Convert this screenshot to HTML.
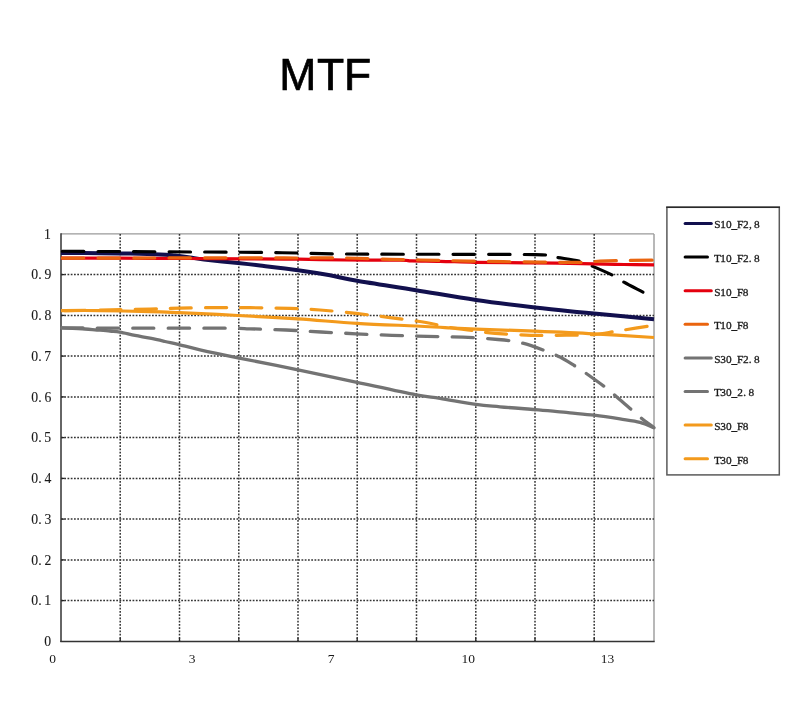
<!DOCTYPE html><html><head><meta charset="utf-8"><title>MTF</title><style>html,body{margin:0;padding:0;background:#fff;}body{width:800px;height:710px;overflow:hidden;position:relative;}svg{position:absolute;left:0;top:0;}</style></head><body>
<svg width="800" height="710" viewBox="0 0 800 710">
<rect width="800" height="710" fill="#fff"/>
<text x="279.32 316.97 343.92" y="89.6" font-family="Liberation Sans, sans-serif" font-size="44.5" fill="#000" stroke="#000" stroke-width="0.7">MTF</text>
<line x1="61" y1="233.9" x2="654" y2="233.9" stroke="#9a9a9a" stroke-width="1.4"/>
<line x1="654" y1="233.9" x2="654" y2="641.4" stroke="#9a9a9a" stroke-width="1.4"/>
<g stroke="#333" stroke-width="1.5" stroke-dasharray="1.75 1.5"><line x1="61" y1="600.6" x2="654" y2="600.6"/><line x1="61" y1="559.9" x2="654" y2="559.9"/><line x1="61" y1="519.1" x2="654" y2="519.1"/><line x1="61" y1="478.4" x2="654" y2="478.4"/><line x1="61" y1="437.6" x2="654" y2="437.6"/><line x1="61" y1="396.9" x2="654" y2="396.9"/><line x1="61" y1="356.1" x2="654" y2="356.1"/><line x1="61" y1="315.4" x2="654" y2="315.4"/><line x1="61" y1="274.6" x2="654" y2="274.6"/><line x1="120.2" y1="233.9" x2="120.2" y2="641.4"/><line x1="179.5" y1="233.9" x2="179.5" y2="641.4"/><line x1="238.8" y1="233.9" x2="238.8" y2="641.4"/><line x1="298.0" y1="233.9" x2="298.0" y2="641.4"/><line x1="357.2" y1="233.9" x2="357.2" y2="641.4"/><line x1="416.5" y1="233.9" x2="416.5" y2="641.4"/><line x1="475.8" y1="233.9" x2="475.8" y2="641.4"/><line x1="535.0" y1="233.9" x2="535.0" y2="641.4"/><line x1="594.2" y1="233.9" x2="594.2" y2="641.4"/></g>
<g stroke="#222" stroke-width="1.3"><line x1="61" y1="600.6" x2="64.5" y2="600.6"/><line x1="61" y1="559.9" x2="64.5" y2="559.9"/><line x1="61" y1="519.1" x2="64.5" y2="519.1"/><line x1="61" y1="478.4" x2="64.5" y2="478.4"/><line x1="61" y1="437.6" x2="64.5" y2="437.6"/><line x1="61" y1="396.9" x2="64.5" y2="396.9"/><line x1="61" y1="356.1" x2="64.5" y2="356.1"/><line x1="61" y1="315.4" x2="64.5" y2="315.4"/><line x1="61" y1="274.6" x2="64.5" y2="274.6"/><line x1="120.2" y1="638" x2="120.2" y2="641.4"/><line x1="179.5" y1="638" x2="179.5" y2="641.4"/><line x1="238.8" y1="638" x2="238.8" y2="641.4"/><line x1="298.0" y1="638" x2="298.0" y2="641.4"/><line x1="357.2" y1="638" x2="357.2" y2="641.4"/><line x1="416.5" y1="638" x2="416.5" y2="641.4"/><line x1="475.8" y1="638" x2="475.8" y2="641.4"/><line x1="535.0" y1="638" x2="535.0" y2="641.4"/><line x1="594.2" y1="638" x2="594.2" y2="641.4"/></g>
<line x1="61" y1="233.2" x2="61" y2="642" stroke="#333" stroke-width="1.5"/>
<line x1="60.3" y1="641.4" x2="654.7" y2="641.4" stroke="#333" stroke-width="1.5"/>
<path d="M61.0,252.9 C67.5,252.9 88.5,253.1 100.0,253.2 C111.5,253.3 120.0,253.4 130.0,253.6 C140.0,253.8 152.5,254.1 160.0,254.4 C167.5,254.7 170.0,255.1 175.0,255.6 C180.0,256.1 185.2,256.7 190.0,257.4 C194.8,258.1 196.0,258.7 204.0,259.6 C212.0,260.5 228.7,262.0 238.0,263.0 C247.3,264.0 250.0,264.3 260.0,265.5 C270.0,266.7 286.3,268.6 298.0,270.2 C309.7,271.8 320.2,273.5 330.0,275.3 C339.8,277.1 342.7,278.3 357.0,280.8 C371.3,283.3 396.2,287.0 416.0,290.2 C435.8,293.4 456.2,297.1 476.0,300.0 C495.8,302.9 517.7,305.5 535.0,307.5 C552.3,309.5 570.2,311.2 580.0,312.2 C589.8,313.2 581.7,312.4 594.0,313.6 C606.3,314.8 644.0,318.3 654.0,319.2" fill="none" stroke="#12104e" stroke-width="4.0"/>
<path d="M61.0,251.3 C72.5,251.4 106.8,251.5 130.0,251.6 C153.2,251.7 178.3,251.9 200.0,252.0 C221.7,252.1 243.7,252.2 260.0,252.4 C276.3,252.6 283.8,252.7 298.0,253.0 C312.2,253.3 321.3,253.8 345.0,254.0 C368.7,254.2 408.3,254.2 440.0,254.3 C471.7,254.4 517.3,254.3 535.0,254.6 C552.7,254.8 542.2,255.3 546.0,255.8 C549.8,256.3 552.5,256.7 558.0,257.6 C563.5,258.5 573.3,259.6 579.0,261.0 C584.7,262.4 586.3,263.6 592.0,266.0 C597.7,268.4 607.7,272.7 613.0,275.4 C618.3,278.1 618.7,279.2 624.0,282.2 C629.3,285.2 640.0,290.6 645.0,293.3 C650.0,296.0 652.5,297.6 654.0,298.5" fill="none" stroke="#000000" stroke-width="3.1" stroke-dasharray="21.40 14.10" stroke-dashoffset="-1.55" stroke-linecap="round"/>
<path d="M61.0,258.1 C75.8,258.1 119.3,258.2 150.0,258.3 C180.7,258.4 220.3,258.7 245.0,258.8 C269.7,258.9 281.3,259.0 298.0,259.2 C314.7,259.4 328.0,259.8 345.0,260.0 C362.0,260.2 388.8,260.1 400.0,260.2 C411.2,260.3 405.3,260.7 412.0,260.9 C418.7,261.1 429.5,261.1 440.0,261.3 C450.5,261.5 460.0,262.0 475.0,262.3 C490.0,262.6 510.2,262.6 530.0,262.9 C549.8,263.1 578.3,263.5 594.0,263.8 C609.7,264.1 614.0,264.3 624.0,264.5 C634.0,264.7 649.0,264.8 654.0,264.9" fill="none" stroke="#e4000e" stroke-width="3.2"/>
<path d="M61.0,258.1 C75.8,258.1 118.5,258.1 150.0,258.0 C181.5,257.9 225.3,257.8 250.0,257.8 C274.7,257.8 282.0,258.0 298.0,258.0 C314.0,258.0 330.7,257.8 346.0,258.0 C361.3,258.2 377.7,259.0 390.0,259.3 C402.3,259.6 405.8,259.7 420.0,260.0 C434.2,260.3 455.0,260.8 475.0,261.2 C495.0,261.6 522.5,261.9 540.0,262.1 C557.5,262.3 570.0,262.5 580.0,262.4 C590.0,262.2 592.0,261.5 600.0,261.2 C608.0,260.9 619.0,260.6 628.0,260.4 C637.0,260.2 649.7,260.2 654.0,260.2" fill="none" stroke="#ea640e" stroke-width="3.2" stroke-dasharray="21.30 14.20" stroke-dashoffset="-1.60" stroke-linecap="round"/>
<path d="M61.0,327.8 C65.0,328.0 79.0,328.6 85.0,329.0 C91.0,329.4 92.8,329.7 97.0,330.0 C101.2,330.3 106.2,330.6 110.0,331.0 C113.8,331.4 115.8,331.4 120.0,332.1 C124.2,332.8 130.0,334.4 135.0,335.4 C140.0,336.4 145.0,337.2 150.0,338.2 C155.0,339.2 160.2,340.4 165.0,341.5 C169.8,342.6 173.2,343.2 179.0,344.6 C184.8,346.0 190.2,347.6 200.0,349.8 C209.8,352.0 221.7,354.5 238.0,357.8 C254.3,361.1 278.2,365.8 298.0,369.9 C317.8,374.0 337.3,378.2 357.0,382.4 C376.7,386.6 402.2,392.2 416.0,394.9 C429.8,397.5 430.0,396.7 440.0,398.3 C450.0,399.9 466.0,403.0 476.0,404.4 C486.0,405.8 490.2,405.9 500.0,406.8 C509.8,407.7 525.0,408.8 535.0,409.6 C545.0,410.4 554.2,411.3 560.0,411.8 C565.8,412.3 564.3,412.2 570.0,412.8 C575.7,413.4 585.7,414.2 594.0,415.2 C602.3,416.2 612.3,417.7 620.0,418.9 C627.7,420.1 634.3,420.8 640.0,422.3 C645.7,423.8 651.7,426.9 654.0,427.8" fill="none" stroke="#737373" stroke-width="3.3"/>
<path d="M61.0,327.9 C70.8,327.9 92.3,328.1 120.0,328.1 C147.7,328.2 205.3,328.1 227.0,328.2 C248.7,328.3 240.2,328.5 250.0,328.8 C259.8,329.1 274.2,329.5 286.0,330.0 C297.8,330.5 309.3,331.4 321.0,332.0 C332.7,332.6 344.2,333.2 356.0,333.8 C367.8,334.4 380.2,334.9 392.0,335.3 C403.8,335.7 415.2,336.0 427.0,336.3 C438.8,336.6 451.2,336.7 463.0,337.2 C474.8,337.7 488.3,338.6 498.0,339.5 C507.7,340.4 513.3,341.0 521.0,342.8 C528.7,344.6 537.5,347.9 544.0,350.3 C550.5,352.7 554.8,354.4 560.0,357.0 C565.2,359.6 570.8,363.4 575.0,366.0 C579.2,368.6 580.2,369.2 585.0,372.6 C589.8,376.0 599.3,382.8 604.0,386.3 C608.7,389.8 608.5,389.8 613.0,393.6 C617.5,397.4 626.5,405.4 631.0,409.3 C635.5,413.2 636.2,413.9 640.0,417.0 C643.8,420.1 651.7,426.0 654.0,427.8" fill="none" stroke="#737373" stroke-width="3.3" stroke-dasharray="21.20 14.30" stroke-dashoffset="-0.85" stroke-linecap="round"/>
<path d="M61.0,310.6 C67.5,310.6 85.2,310.4 100.0,310.6 C114.8,310.8 136.8,311.3 150.0,311.6 C163.2,311.9 164.3,312.0 179.0,312.6 C193.7,313.2 218.2,314.4 238.0,315.5 C257.8,316.6 278.2,317.6 298.0,318.9 C317.8,320.2 337.3,322.1 357.0,323.3 C376.7,324.5 401.3,325.3 416.0,326.0 C430.7,326.7 435.0,327.1 445.0,327.6 C455.0,328.1 461.0,328.5 476.0,329.1 C491.0,329.7 515.3,330.4 535.0,331.2 C554.7,332.0 574.2,332.8 594.0,333.9 C613.8,334.9 644.0,336.9 654.0,337.5" fill="none" stroke="#f39a1c" stroke-width="3.2"/>
<path d="M61.0,310.6 C67.5,310.5 85.2,310.3 100.0,310.0 C114.8,309.7 136.7,309.3 150.0,309.0 C163.3,308.7 169.2,308.3 180.0,308.1 C190.8,307.9 203.3,307.7 215.0,307.6 C226.7,307.5 237.5,307.6 250.0,307.7 C262.5,307.8 278.3,308.0 290.0,308.4 C301.7,308.8 309.0,309.2 320.0,310.0 C331.0,310.8 344.3,312.1 356.0,313.4 C367.7,314.7 378.3,316.1 390.0,317.6 C401.7,319.1 416.5,320.9 426.0,322.5 C435.5,324.1 438.7,325.6 447.0,327.0 C455.3,328.4 468.0,329.9 476.0,331.0 C484.0,332.1 485.8,332.7 495.0,333.4 C504.2,334.1 519.2,335.0 531.0,335.3 C542.8,335.6 555.5,335.3 566.0,335.2 C576.5,335.1 586.2,335.2 594.0,334.6 C601.8,334.0 608.0,332.6 613.0,331.8 C618.0,331.0 618.2,330.9 624.0,330.0 C629.8,329.1 643.0,327.0 648.0,326.2 C653.0,325.4 653.0,325.4 654.0,325.3" fill="none" stroke="#f39a1c" stroke-width="3.2" stroke-dasharray="21.10 14.12" stroke-dashoffset="-3.68" stroke-linecap="round"/>
<g font-family="Liberation Serif, serif" font-size="13.7" fill="#1a1a1a" stroke="#1a1a1a" stroke-width="0.12"><text x="44.18" y="646.20">0</text><text x="31.32 38.29 44.28" y="605.45">0.1</text><text x="31.32 38.29 44.55" y="564.70">0.2</text><text x="31.32 38.29 44.41" y="523.95">0.3</text><text x="31.32 38.29 44.45" y="483.20">0.4</text><text x="31.32 38.29 44.34" y="442.45">0.5</text><text x="31.32 38.29 44.38" y="401.70">0.6</text><text x="31.32 38.29 44.22" y="360.95">0.7</text><text x="31.32 38.29 44.48" y="320.20">0.8</text><text x="31.32 38.29 44.54" y="279.45">0.9</text><text x="43.98" y="238.70">1</text></g>
<g font-family="Liberation Serif, serif" font-size="13.5" fill="#1a1a1a"><text x="52.5" y="662.6" text-anchor="middle">0</text><text x="192.0" y="662.6" text-anchor="middle">3</text><text x="331.0" y="662.6" text-anchor="middle">7</text><text x="468.2" y="662.6" text-anchor="middle">10</text><text x="607.5" y="662.6" text-anchor="middle">13</text></g>
<rect x="666.9" y="207.3" width="112.4" height="267.6" fill="#fff" stroke="#5a5a5a" stroke-width="1.5"/>
<line x1="666.2" y1="207.3" x2="780" y2="207.3" stroke="#2a2a2a" stroke-width="1.5"/>
<line x1="685.1" y1="223.5" x2="711.3" y2="223.5" stroke="#12104e" stroke-width="3" stroke-linecap="round"/><text x="714.33 720.15 725.93 731.56 736.92 742.89 749.01 754.08" y="228.4" font-family="Liberation Serif, serif" font-size="11.3" fill="#1a1a1a" stroke="#1a1a1a" stroke-width="0.3">S10_F2,8</text><line x1="685.1" y1="257.1" x2="707.5" y2="257.1" stroke="#000000" stroke-width="3" stroke-linecap="round"/><text x="714.04 720.15 725.93 731.56 736.92 742.89 748.87 754.08" y="262.0" font-family="Liberation Serif, serif" font-size="11.3" fill="#1a1a1a" stroke="#1a1a1a" stroke-width="0.3">T10_F2.8</text><line x1="685.1" y1="290.7" x2="711.3" y2="290.7" stroke="#e4000e" stroke-width="3" stroke-linecap="round"/><text x="714.33 720.15 725.93 731.56 736.92 742.82" y="295.6" font-family="Liberation Serif, serif" font-size="11.3" fill="#1a1a1a" stroke="#1a1a1a" stroke-width="0.3">S10_F8</text><line x1="685.1" y1="324.3" x2="707.5" y2="324.3" stroke="#ea640e" stroke-width="3" stroke-linecap="round"/><text x="714.04 720.15 725.93 731.56 736.92 742.82" y="329.2" font-family="Liberation Serif, serif" font-size="11.3" fill="#1a1a1a" stroke="#1a1a1a" stroke-width="0.3">T10_F8</text><line x1="685.1" y1="357.9" x2="711.3" y2="357.9" stroke="#737373" stroke-width="3" stroke-linecap="round"/><text x="714.33 720.26 725.93 731.56 736.92 742.89 748.87 754.08" y="362.8" font-family="Liberation Serif, serif" font-size="11.3" fill="#1a1a1a" stroke="#1a1a1a" stroke-width="0.3">S30_F2.8</text><line x1="685.1" y1="391.5" x2="707.5" y2="391.5" stroke="#737373" stroke-width="3" stroke-linecap="round"/><text x="714.04 720.26 725.93 731.56 737.26 743.24 748.45" y="396.4" font-family="Liberation Serif, serif" font-size="11.3" fill="#1a1a1a" stroke="#1a1a1a" stroke-width="0.3">T30_2.8</text><line x1="685.1" y1="425.1" x2="711.3" y2="425.1" stroke="#f39a1c" stroke-width="3" stroke-linecap="round"/><text x="714.33 720.26 725.93 731.56 736.92 742.82" y="430.0" font-family="Liberation Serif, serif" font-size="11.3" fill="#1a1a1a" stroke="#1a1a1a" stroke-width="0.3">S30_F8</text><line x1="685.1" y1="458.7" x2="707.5" y2="458.7" stroke="#f39a1c" stroke-width="3" stroke-linecap="round"/><text x="714.04 720.26 725.93 731.56 736.92 742.82" y="463.6" font-family="Liberation Serif, serif" font-size="11.3" fill="#1a1a1a" stroke="#1a1a1a" stroke-width="0.3">T30_F8</text>
</svg></body></html>
